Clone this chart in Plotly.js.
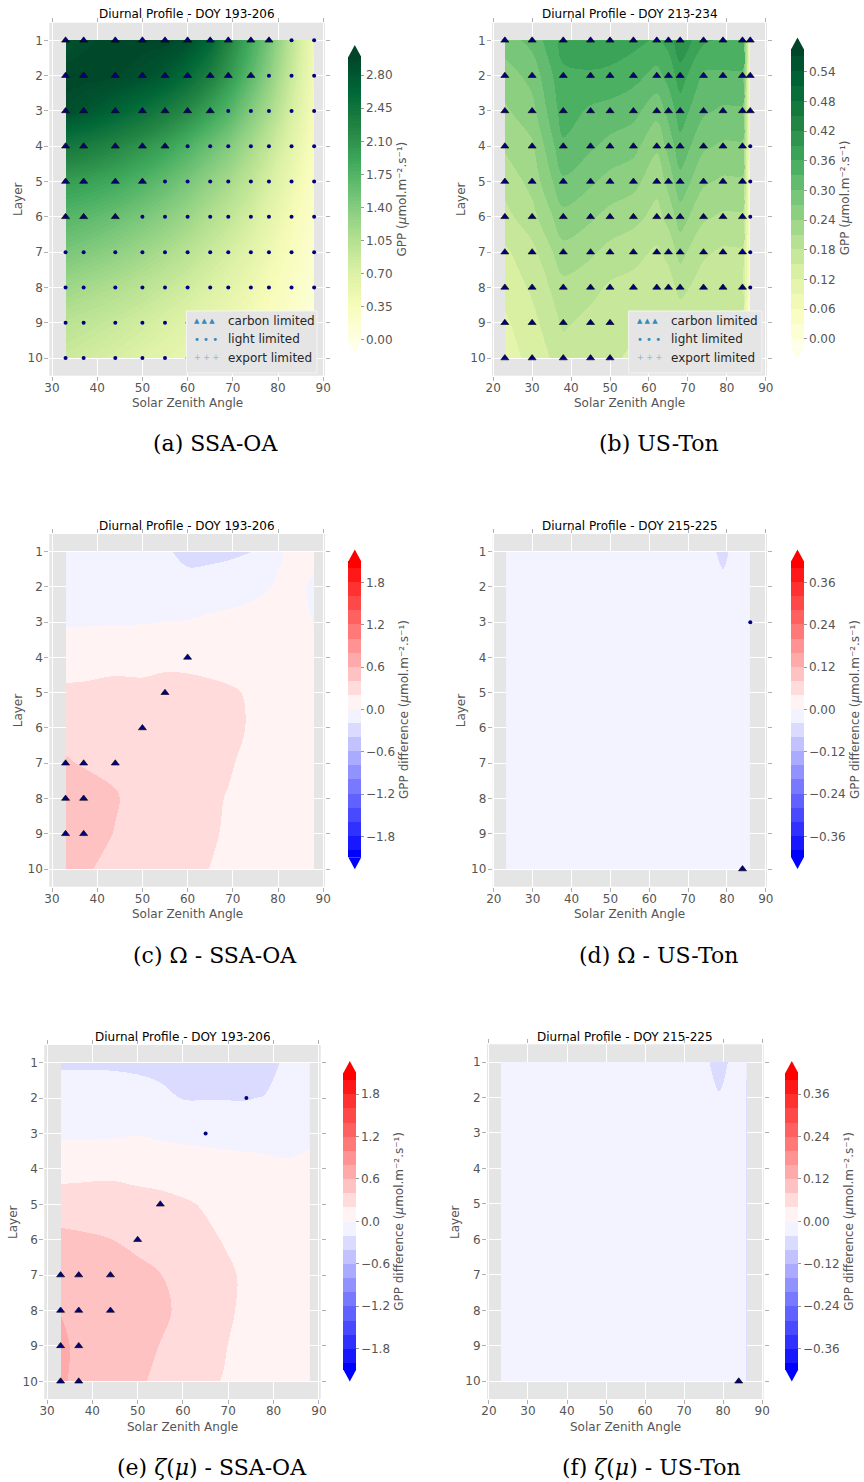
<!DOCTYPE html>
<html>
<head>
<meta charset="utf-8">
<script src="https://cdn.plot.ly/plotly-3.0.1.min.js"></script>
<style>
  html, body { margin: 0; padding: 0; background: #ffffff; }
  #chart { width: 864px; height: 1482px; }
  /* keep filled contour edges sharp so stacked bands do not bleed at the borders */
  #chart .contourbg path, #chart .contourfill path { shape-rendering: crispEdges; }
</style>
</head>
<body>
<div id="chart"></div>
<script>
// ---------------- data ----------------
const layers = [1, 2, 3, 4, 5, 6, 7, 8, 9, 10];

// solar zenith angles sampled at each site
const szaOA  = [33, 37, 44, 50, 55, 60, 65, 69, 74, 78, 83, 88];
const szaTon = [23, 30, 38, 45, 50, 56, 62, 65, 68, 74, 79, 84, 86];

// GPP per layer (rows = layers 1..10), SSA-OA
const gppOA = [
  [2.85, 2.92, 2.97, 2.98, 2.98, 2.88, 2.62, 2.25, 1.85, 1.50, 0.98, 0.45],
  [2.98, 2.98, 2.95, 2.88, 2.76, 2.56, 2.30, 2.05, 1.68, 1.35, 0.88, 0.42],
  [2.90, 2.82, 2.66, 2.50, 2.35, 2.18, 1.95, 1.75, 1.42, 1.15, 0.76, 0.38],
  [2.40, 2.35, 2.22, 2.08, 1.95, 1.78, 1.58, 1.42, 1.16, 0.93, 0.62, 0.32],
  [2.00, 1.97, 1.88, 1.76, 1.63, 1.48, 1.30, 1.16, 0.95, 0.75, 0.50, 0.26],
  [1.72, 1.68, 1.58, 1.47, 1.36, 1.23, 1.07, 0.95, 0.78, 0.60, 0.40, 0.20],
  [1.48, 1.43, 1.33, 1.22, 1.12, 1.01, 0.87, 0.77, 0.62, 0.48, 0.32, 0.16],
  [1.22, 1.17, 1.08, 0.99, 0.90, 0.81, 0.70, 0.61, 0.49, 0.38, 0.26, 0.13],
  [1.00, 0.96, 0.88, 0.80, 0.72, 0.65, 0.56, 0.49, 0.40, 0.31, 0.21, 0.11],
  [0.85, 0.81, 0.74, 0.67, 0.60, 0.54, 0.46, 0.40, 0.33, 0.26, 0.18, 0.09]
];

// GPP per layer, US-Ton
const gppTon = [
  [0.285, 0.31, 0.37, 0.385, 0.385, 0.37, 0.355, 0.37, 0.415, 0.365, 0.355, 0.355, 0.05],
  [0.255, 0.28, 0.355, 0.355, 0.35, 0.34, 0.32, 0.34, 0.375, 0.325, 0.325, 0.325, 0.05],
  [0.235, 0.26, 0.345, 0.325, 0.32, 0.31, 0.28, 0.31, 0.345, 0.305, 0.295, 0.295, 0.05],
  [0.215, 0.235, 0.325, 0.305, 0.29, 0.28, 0.245, 0.28, 0.32, 0.275, 0.265, 0.265, 0.045],
  [0.19, 0.22, 0.295, 0.275, 0.26, 0.25, 0.22, 0.25, 0.29, 0.245, 0.235, 0.235, 0.04],
  [0.17, 0.20, 0.26, 0.245, 0.23, 0.22, 0.20, 0.22, 0.255, 0.215, 0.205, 0.205, 0.04],
  [0.145, 0.17, 0.23, 0.215, 0.20, 0.19, 0.175, 0.19, 0.22, 0.185, 0.175, 0.175, 0.035],
  [0.13, 0.155, 0.20, 0.19, 0.175, 0.17, 0.16, 0.165, 0.19, 0.165, 0.16, 0.16, 0.035],
  [0.115, 0.14, 0.185, 0.17, 0.16, 0.155, 0.145, 0.145, 0.16, 0.155, 0.145, 0.145, 0.025],
  [0.105, 0.13, 0.165, 0.16, 0.155, 0.145, 0.14, 0.135, 0.145, 0.14, 0.135, 0.135, 0.025]
];

// limiting process per layer: C = carbon limited, L = light limited
const limitOA = [
  'CCCCCCCCCCLL', 'CCCCCCCCCLLL', 'CCCCCCCLLLLL', 'CCCCCLLLLLLL', 'CCCCLLLLLLLL',
  'CCCLLLLLLLLL', 'LLLLLLLLLLLL', 'LLLLLLLLLLLL', 'LLLLLLLLLLLL', 'LLLLLLLLLLLL'
];
const limitTon = [
  'CCCCCCCCCCCCC', 'CCCCCCCCCCCCC', 'CCCCCCCCCCCCC', 'CCCCCCCCCCCCL', 'CCCCCCCCCCCCL',
  'CCCCCCCCCCCCL', 'CCCCCCCCCCCCL', 'CCCCCCCCCCCCL', 'CCCCCCCCCCCCL', 'CCCCCCCCCCCCL'
];

// GPP difference with clumping (Omega), SSA-OA
const omegaOA = [
  [-0.10, -0.10, -0.10, -0.12, -0.15, -0.30, -0.28, -0.25, -0.21, -0.10, 0.05, 0.03],
  [-0.08, -0.08, -0.08, -0.08, -0.07, -0.07, -0.06, -0.05, -0.03, -0.005, 0.04, -0.02],
  [-0.01, -0.01, -0.008, -0.005, 0.002, 0.005, 0.02, 0.03, 0.04, 0.05, 0.06, -0.005],
  [0.07, 0.07, 0.09, 0.08, 0.10, 0.10, 0.08, 0.07, 0.06, 0.06, 0.07, 0.04],
  [0.25, 0.26, 0.30, 0.29, 0.34, 0.32, 0.28, 0.24, 0.17, 0.12, 0.10, 0.06],
  [0.32, 0.33, 0.33, 0.32, 0.31, 0.30, 0.28, 0.26, 0.18, 0.13, 0.10, 0.06],
  [0.425, 0.38, 0.35, 0.33, 0.31, 0.29, 0.26, 0.22, 0.15, 0.12, 0.09, 0.05],
  [0.55, 0.53, 0.42, 0.30, 0.29, 0.27, 0.23, 0.19, 0.14, 0.11, 0.08, 0.05],
  [0.55, 0.50, 0.39, 0.30, 0.27, 0.25, 0.22, 0.18, 0.13, 0.10, 0.08, 0.05],
  [0.47, 0.43, 0.33, 0.28, 0.25, 0.23, 0.198, 0.17, 0.12, 0.09, 0.07, 0.04]
];

// GPP difference with clumping (Omega), US-Ton
const omegaTon = [
  [-0.012, -0.010, -0.008, -0.009, -0.010, -0.011, -0.013, -0.015, -0.018, -0.022, -0.050, -0.015, -0.006],
  [-0.010, -0.009, -0.008, -0.008, -0.009, -0.010, -0.012, -0.013, -0.015, -0.018, -0.030, -0.013, -0.005],
  [-0.009, -0.008, -0.008, -0.008, -0.009, -0.010, -0.011, -0.012, -0.013, -0.015, -0.018, -0.012, -0.005],
  [-0.008, -0.008, -0.008, -0.008, -0.008, -0.009, -0.010, -0.011, -0.012, -0.013, -0.014, -0.011, -0.005],
  [-0.008, -0.008, -0.007, -0.007, -0.008, -0.009, -0.010, -0.010, -0.011, -0.012, -0.012, -0.010, -0.005],
  [-0.007, -0.007, -0.007, -0.007, -0.008, -0.008, -0.009, -0.009, -0.010, -0.011, -0.011, -0.010, -0.004],
  [-0.007, -0.007, -0.006, -0.007, -0.007, -0.008, -0.008, -0.009, -0.009, -0.010, -0.010, -0.009, -0.004],
  [-0.006, -0.006, -0.006, -0.006, -0.007, -0.007, -0.008, -0.008, -0.009, -0.009, -0.009, -0.009, -0.004],
  [-0.006, -0.006, -0.006, -0.006, -0.006, -0.007, -0.007, -0.008, -0.008, -0.009, -0.009, -0.008, -0.003],
  [-0.005, -0.005, -0.005, -0.006, -0.006, -0.006, -0.007, -0.007, -0.008, -0.008, -0.008, -0.008, -0.003]
];

// GPP difference with zeta(mu), SSA-OA
const zetaOA = [
  [-0.24, -0.24, -0.24, -0.25, -0.30, -0.32, -0.32, -0.32, -0.32, -0.30, -0.15, -0.12],
  [-0.05, -0.05, -0.06, -0.10, -0.12, -0.21, -0.21, -0.21, -0.21, -0.19, -0.10, -0.08],
  [-0.02, -0.02, -0.02, -0.005, -0.02, -0.03, -0.04, -0.05, -0.06, -0.07, -0.07, -0.05],
  [0.08, 0.09, 0.11, 0.095, 0.08, 0.07, 0.065, 0.06, 0.055, 0.053, 0.03, 0.06],
  [0.36, 0.37, 0.38, 0.31, 0.28, 0.23, 0.18, 0.15, 0.12, 0.10, 0.08, 0.06],
  [0.42, 0.41, 0.401, 0.36, 0.33, 0.30, 0.24, 0.19, 0.15, 0.12, 0.10, 0.07],
  [0.52, 0.50, 0.47, 0.445, 0.405, 0.33, 0.27, 0.24, 0.17, 0.13, 0.10, 0.07],
  [0.595, 0.55, 0.52, 0.48, 0.45, 0.35, 0.28, 0.24, 0.16, 0.13, 0.10, 0.07],
  [0.64, 0.56, 0.50, 0.45, 0.395, 0.33, 0.26, 0.21, 0.15, 0.12, 0.09, 0.06],
  [0.63, 0.55, 0.48, 0.42, 0.37, 0.30, 0.22, 0.195, 0.14, 0.11, 0.08, 0.05]
];

// GPP difference with zeta(mu), US-Ton
const zetaTon = [
  [-0.012, -0.010, -0.009, -0.009, -0.010, -0.011, -0.013, -0.015, -0.017, -0.020, -0.060, -0.015, 0.004],
  [-0.010, -0.009, -0.008, -0.008, -0.009, -0.010, -0.012, -0.013, -0.015, -0.018, -0.036, -0.013, -0.004],
  [-0.009, -0.008, -0.008, -0.008, -0.009, -0.010, -0.011, -0.012, -0.013, -0.015, -0.020, -0.012, -0.005],
  [-0.008, -0.008, -0.008, -0.008, -0.008, -0.009, -0.010, -0.011, -0.012, -0.013, -0.015, -0.011, -0.005],
  [-0.008, -0.008, -0.007, -0.007, -0.008, -0.009, -0.010, -0.010, -0.011, -0.012, -0.012, -0.010, -0.005],
  [-0.007, -0.007, -0.007, -0.007, -0.008, -0.008, -0.009, -0.009, -0.010, -0.011, -0.011, -0.010, -0.004],
  [-0.007, -0.007, -0.006, -0.007, -0.007, -0.008, -0.008, -0.009, -0.009, -0.010, -0.010, -0.009, -0.004],
  [-0.006, -0.006, -0.006, -0.006, -0.007, -0.007, -0.008, -0.008, -0.009, -0.009, -0.009, -0.009, -0.004],
  [-0.006, -0.006, -0.006, -0.006, -0.006, -0.007, -0.007, -0.008, -0.008, -0.009, -0.009, -0.008, -0.003],
  [-0.005, -0.005, -0.005, -0.006, -0.006, -0.006, -0.007, -0.007, -0.008, -0.008, -0.008, -0.008, -0.003]
];

// points whose limitation changes under each canopy treatment
const omegaOACarbonSza   = [60, 55, 50, 33, 37, 44, 33, 37, 33, 37];
const omegaOACarbonLayer = [4, 5, 6, 7, 7, 7, 8, 8, 9, 9];
const omegaTonLightSza   = [86];
const omegaTonLightLayer = [3];
const omegaTonCarbonSza   = [84];
const omegaTonCarbonLayer = [10];
const zetaOALightSza   = [74, 65];
const zetaOALightLayer = [2, 3];
const zetaOACarbonSza   = [55, 50, 33, 37, 44, 33, 37, 44, 33, 37, 33, 37];
const zetaOACarbonLayer = [5, 6, 7, 7, 7, 8, 8, 8, 9, 9, 10, 10];
const zetaTonCarbonSza   = [84];
const zetaTonCarbonLayer = [10];

// tick labels
const szaTicksOA  = [30, 40, 50, 60, 70, 80, 90];
const szaTicksTon = [20, 30, 40, 50, 60, 70, 80, 90];
const gppTicksOA  = [0.00, 0.35, 0.70, 1.05, 1.40, 1.75, 2.10, 2.45, 2.80];
const gppTicksTon = [0.00, 0.06, 0.12, 0.18, 0.24, 0.30, 0.36, 0.42, 0.48, 0.54];
const diffTicksOA  = [-1.8, -1.2, -0.6, 0.0, 0.6, 1.2, 1.8];
const diffTicksTon = [-0.36, -0.24, -0.12, 0.00, 0.12, 0.24, 0.36];

// contour levels [start, end, step]
const levelsGppOA  = [0, 2.975, 0.035];
const levelsGppTon = [0, 0.57, 0.03];
const levelsDiffOA  = [-2.0, 2.0, 0.2];
const levelsDiffTon = [-0.4, 0.4, 0.04];

const panelTitles = [
  'Diurnal Profile - DOY 193-206', 'Diurnal Profile - DOY 213-234',
  'Diurnal Profile - DOY 193-206', 'Diurnal Profile - DOY 215-225',
  'Diurnal Profile - DOY 193-206', 'Diurnal Profile - DOY 215-225'
];
const captions = [
  '(a) SSA-OA', '(b) US-Ton',
  '(c) Ω - SSA-OA', '(d) Ω - US-Ton',
  '(e) <i>ζ</i>(<i>μ</i>) - SSA-OA', '(f) <i>ζ</i>(<i>μ</i>) - US-Ton'
];
const legendLabels = ['carbon limited', 'light limited', 'export limited'];

// ---------------- styling ----------------
const W = 864, H = 1482;
const fx = p => p / W;
const fy = p => 1 - p / H;

const YLGN = [[0, '#ffffe5'], [0.125, '#f7fcb9'], [0.25, '#d9f0a3'], [0.375, '#addd8e'],
              [0.5, '#78c679'], [0.625, '#41ab5d'], [0.75, '#238443'], [0.875, '#006837'], [1, '#004529']];
const BWR = [[0, '#0000ff'], [0.5, '#ffffff'], [1, '#ff0000']];

const GPP_UNITS = 'GPP (<i>μ</i>mol.m⁻².s⁻¹)';
const DIFF_UNITS = 'GPP difference (<i>μ</i>mol.m⁻².s⁻¹)';

const minus = s => s.replace('-', '−');

function splitLimits(sza, codes) {
  const out = { C: { x: [], y: [] }, L: { x: [], y: [] } };
  codes.forEach((row, i) => {
    row.split('').forEach((c, j) => {
      out[c].x.push(sza[j]);
      out[c].y.push(layers[i]);
    });
  });
  return out;
}
const limOA = splitLimits(szaOA, limitOA);
const limTon = splitLimits(szaTon, limitTon);

// layout boxes in pixels: plot [left, right, top, bottom], colour bar [left, top, len]
const panels = [
  { sza: szaOA, z: gppOA, box: [49.3, 325, 22.7, 375.7], xr: [29.4, 90.4], xt: szaTicksOA,
    cs: YLGN, lv: levelsGppOA, cb: [348.3, 57.1, 283.8], tv: gppTicksOA, tt: gppTicksOA.map(v => v.toFixed(2)),
    cbTitle: GPP_UNITS, ends: ['#004529', '#ffffe5'],
    carbon: limOA.C, light: limOA.L, legend: [186.5, 317, 191.5, 226],
    title: [187.2, 14], xlab: [187.2, 403], ylab: [18, 199], cap: [215, 443] },
  { sza: szaTon, z: gppTon, box: [492, 767, 22.7, 375.7], xr: [19.7, 90.3], xt: szaTicksTon,
    cs: YLGN, lv: levelsGppTon, cb: [791, 49.4, 297.4], tv: gppTicksTon, tt: gppTicksTon.map(v => v.toFixed(2)),
    cbTitle: GPP_UNITS, ends: ['#004529', '#ffffe5'],
    carbon: limTon.C, light: limTon.L, legend: [628.7, 762, 635, 668.7],
    title: [629.5, 14], xlab: [629.5, 403], ylab: [461, 199], cap: [659, 443] },
  { sza: szaOA, z: omegaOA, box: [49.3, 325, 534, 886.7], xr: [29.4, 90.4], xt: szaTicksOA,
    cs: BWR, lv: levelsDiffOA, cb: [348.3, 561.5, 295.7], tv: diffTicksOA, tt: diffTicksOA.map(v => minus(v.toFixed(1))),
    cbTitle: DIFF_UNITS, ends: ['#ff0000', '#0000ff'],
    carbon: { x: omegaOACarbonSza, y: omegaOACarbonLayer }, light: { x: [], y: [] },
    title: [187.2, 525.7], xlab: [187.2, 914], ylab: [18, 710.3], cap: [215, 955] },
  { sza: szaTon, z: omegaTon, box: [492.7, 767, 534, 886.7], xr: [19.7, 90.3], xt: szaTicksTon,
    cs: BWR, lv: levelsDiffTon, cb: [791, 561.5, 295.5], tv: diffTicksTon, tt: diffTicksTon.map(v => minus(v.toFixed(2))),
    cbTitle: DIFF_UNITS, ends: ['#ff0000', '#0000ff'],
    carbon: { x: omegaTonCarbonSza, y: omegaTonCarbonLayer }, light: { x: omegaTonLightSza, y: omegaTonLightLayer },
    title: [629.8, 525.7], xlab: [629.8, 914], ylab: [461, 710.3], cap: [658, 955] },
  { sza: szaOA, z: zetaOA, box: [44.3, 320.7, 1045, 1399], xr: [29.4, 90.4], xt: szaTicksOA,
    cs: BWR, lv: levelsDiffOA, cb: [343.3, 1072.9, 296.7], tv: diffTicksOA, tt: diffTicksOA.map(v => minus(v.toFixed(1))),
    cbTitle: DIFF_UNITS, ends: ['#ff0000', '#0000ff'],
    carbon: { x: zetaOACarbonSza, y: zetaOACarbonLayer }, light: { x: zetaOALightSza, y: zetaOALightLayer },
    title: [182.5, 1036.7], xlab: [182.5, 1426.5], ylab: [13, 1222], cap: [211.7, 1467] },
  { sza: szaTon, z: zetaTon, box: [487, 763.7, 1044.3, 1399], xr: [19.5, 90.4], xt: szaTicksTon,
    cs: BWR, lv: levelsDiffTon, cb: [785.3, 1072.9, 296.7], tv: diffTicksTon, tt: diffTicksTon.map(v => minus(v.toFixed(2))),
    cbTitle: DIFF_UNITS, ends: ['#ff0000', '#0000ff'],
    carbon: { x: zetaTonCarbonSza, y: zetaTonCarbonLayer }, light: { x: [], y: [] },
    title: [625.3, 1036.7], xlab: [625.3, 1426.5], ylab: [455, 1222], cap: [651, 1467] }
];

const tickFont = { family: 'DejaVu Sans', size: 12, color: '#555555' };
const axisBase = {
  showgrid: true, gridcolor: '#ffffff', gridwidth: 1, zeroline: false, showline: false,
  ticks: 'outside', ticklen: 4, tickwidth: 1, tickcolor: '#b0b0b0', mirror: 'ticks',
  tickfont: tickFont, fixedrange: true, autorange: false
};

const TRI = { symbol: 'triangle-up', size: 7, color: '#000080', line: { color: '#000000', width: 0.6 } };
const DOT = { symbol: 'circle', size: 4, color: '#000080', line: { width: 0 } };
const CB_W = 13, ARROW = 12;

const traces = [];
const annotations = [];
const shapes = [];
const layout = {
  width: W, height: H,
  margin: { l: 0, r: 0, t: 0, b: 0 },
  paper_bgcolor: '#ffffff', plot_bgcolor: '#e5e5e5',
  showlegend: false,
  font: { family: 'DejaVu Sans', size: 12, color: '#555555' }
};

const txt = (x, y, text, font, extra) => Object.assign({
  xref: 'paper', yref: 'paper', x: fx(x), y: fy(y), text: text, showarrow: false,
  xanchor: 'center', yanchor: 'middle', font: font
}, extra || {});

panels.forEach((p, i) => {
  const n = i === 0 ? '' : String(i + 1);
  const xa = 'x' + n, ya = 'y' + n;
  layout['xaxis' + n] = Object.assign({}, axisBase, {
    domain: [fx(p.box[0]), fx(p.box[1])], range: p.xr, tickvals: p.xt, anchor: ya,
    ticklabelstandoff: -3
  });
  layout['yaxis' + n] = Object.assign({}, axisBase, {
    domain: [fy(p.box[3]), fy(p.box[2])], range: [10.5, 0.5], tickvals: layers, anchor: xa,
    ticklabelstandoff: -1
  });

  traces.push({
    type: 'contour', x: p.sza, y: layers, z: p.z, xaxis: xa, yaxis: ya,
    colorscale: p.cs, autocontour: false,
    contours: { coloring: 'fill', showlines: false, start: p.lv[0], end: p.lv[1], size: p.lv[2] },
    line: { width: 0 }, hoverinfo: 'skip',
    colorbar: {
      x: fx(p.cb[0]), xanchor: 'left', y: fy(p.cb[1]), yanchor: 'top',
      len: p.cb[2], lenmode: 'pixels', thickness: CB_W, thicknessmode: 'pixels',
      xpad: 0, ypad: 0, outlinewidth: 0,
      ticks: 'outside', ticklen: 3, tickwidth: 1, tickcolor: '#999999',
      tickvals: p.tv, ticktext: p.tt,
      tickfont: tickFont,
      title: { text: p.cbTitle, side: 'right', font: { family: 'DejaVu Sans', size: 12, color: '#555555' } }
    }
  });
  traces.push({ type: 'scatter', mode: 'markers', x: p.carbon.x, y: p.carbon.y, xaxis: xa, yaxis: ya,
                marker: TRI, hoverinfo: 'skip', cliponaxis: false });
  traces.push({ type: 'scatter', mode: 'markers', x: p.light.x, y: p.light.y, xaxis: xa, yaxis: ya,
                marker: DOT, hoverinfo: 'skip', cliponaxis: false });

  // extension arrows on the colour bar
  const l = fx(p.cb[0]), r = fx(p.cb[0] + CB_W), m = fx(p.cb[0] + CB_W / 2);
  const top = p.cb[1], bot = p.cb[1] + p.cb[2];
  shapes.push({ type: 'path', xref: 'paper', yref: 'paper', fillcolor: p.ends[0], line: { width: 0 },
    path: `M${l},${fy(top)} L${r},${fy(top)} L${m},${fy(top - ARROW)} Z` });
  shapes.push({ type: 'path', xref: 'paper', yref: 'paper', fillcolor: p.ends[1], line: { width: 0 },
    path: `M${l},${fy(bot)} L${r},${fy(bot)} L${m},${fy(bot + ARROW)} Z` });

  // texts
  annotations.push(txt(p.title[0], p.title[1], panelTitles[i], { family: 'DejaVu Sans', size: 12, color: '#000000' }));
  annotations.push(txt(p.xlab[0], p.xlab[1], 'Solar Zenith Angle', { family: 'DejaVu Sans', size: 12, color: '#555555' }));
  annotations.push(txt(p.ylab[0], p.ylab[1], 'Layer', { family: 'DejaVu Sans', size: 12, color: '#555555' }, { textangle: -90 }));
  annotations.push(txt(p.cap[0], p.cap[1], captions[i], { family: 'DejaVu Serif', size: 22, color: '#000000' }));

  // legend box
  if (p.legend) {
    const [bx0, bx1, gx, lx] = p.legend;
    shapes.push({ type: 'rect', xref: 'paper', yref: 'paper', layer: 'above',
      x0: fx(bx0), x1: fx(bx1), y0: fy(373), y1: fy(311),
      fillcolor: '#e5e5e5', line: { color: '#f4f4f4', width: 1 } });
    const rowsY = [320.7, 339.3, 357.7];
    const glyphs = [
      ['▲ ▲ ▲', 7, '#348abd'],
      ['• • •', 10, '#348abd'],
      ['+ + +', 8, '#8fb8de']
    ];
    rowsY.forEach((yy, k) => {
      annotations.push(txt(gx, yy, glyphs[k][0], { family: 'DejaVu Sans', size: glyphs[k][1], color: glyphs[k][2] }, { xanchor: 'left' }));
      annotations.push(txt(lx, yy, legendLabels[k], { family: 'DejaVu Sans', size: 12, color: '#262626' }, { xanchor: 'left' }));
    });
  }
});

layout.annotations = annotations;
layout.shapes = shapes;

Plotly.newPlot('chart', traces, layout, { staticPlot: true, displayModeBar: false });
</script>
</body>
</html>
